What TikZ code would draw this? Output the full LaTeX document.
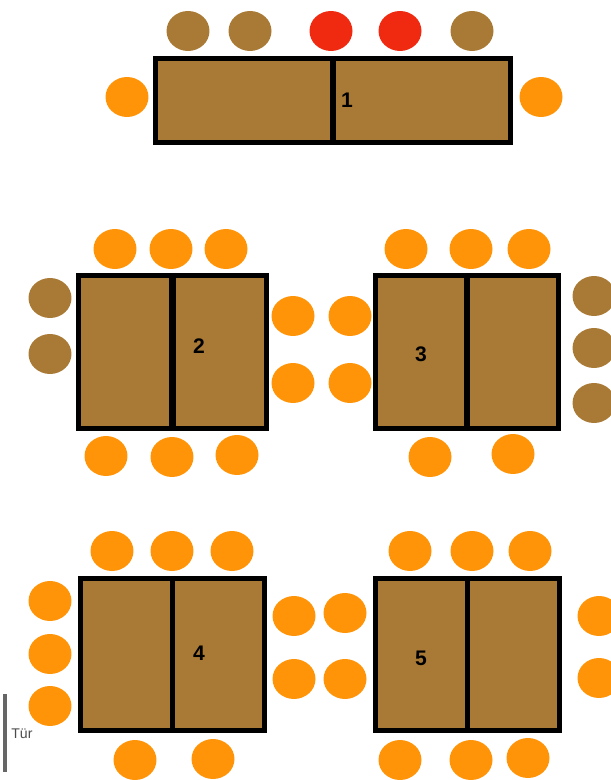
\documentclass[tikz,border=0pt]{standalone}
\usepackage{fontspec}
\setmainfont{Liberation Sans}
\usepackage{tikz}
\usetikzlibrary{shapes.geometric}

\definecolor{tablebrown}{HTML}{A97A35}
\definecolor{seatorange}{HTML}{FF9408}
\definecolor{seatred}{HTML}{F02A10}

\begin{document}
\begin{tikzpicture}[
  x=0.02cm, y=-0.02cm,
  font=\large\bfseries,
  seat/.style={ellipse, inner sep=0pt, minimum width=0.86cm, minimum height=0.8cm},
  free/.style={seat, fill=seatorange},
  taken/.style={seat, fill=tablebrown},
  reserved/.style={seat, fill=seatred},
  tablebox/.style={draw=black, fill=tablebrown, line width=2.9pt, inner sep=0pt},
  divider/.style={draw=black, line width=3.1pt},
]
\useasboundingbox (0,0) rectangle (611,780);
\clip (0,0) rectangle (611,780);

% Tables
\node[tablebox, minimum width=7.1cm, minimum height=1.68cm] (table1) at (333,100.5) {};
\node[tablebox, minimum width=3.76cm, minimum height=3.06cm] (table2) at (172.5,352) {};
\node[tablebox, minimum width=3.66cm, minimum height=3.06cm] (table3) at (467,352) {};
\node[tablebox, minimum width=3.68cm, minimum height=3.04cm] (table4) at (172.5,654.5) {};
\node[tablebox, minimum width=3.68cm, minimum height=3.04cm] (table5) at (467.5,654.5) {};

% Dividers
\draw[divider] (table1.north) -- (table1.south);
\draw[divider, line width=3.8pt] (table2.north) -- (table2.south);
\draw[divider] (table3.north) -- (table3.south);
\draw[divider] (table4.north) -- (table4.south);
\draw[divider] (table5.north) -- (table5.south);

% Table numbers
\node (num1) at (347,100) {1};
\node (num2) at (199,346) {2};
\node (num3) at (421,354) {3};
\node (num4) at (199,653) {4};
\node (num5) at (421,658) {5};

% Seats at table 1
\foreach \x/\y/\kind [count=\i] in {188/31/taken,250/31/taken,331/31/reserved,400/31/reserved,472/31/taken,127/97/free,541/97/free}
  \node[\kind] (a\i) at (\x,\y) {};

% Seats at table 2
\foreach \x/\y/\kind [count=\i] in {115/249/free,171/249/free,226/249/free,50/298/taken,50/354/taken,293/316/free,293/383/free,106/456/free,172/457/free,237/455/free}
  \node[\kind] (b\i) at (\x,\y) {};

% Seats at table 3
\foreach \x/\y/\kind [count=\i] in {406/249/free,471/249/free,529/249/free,350/316/free,350/383/free,594/296/taken,594/348/taken,594/403/taken,430/457/free,513/454/free}
  \node[\kind] (c\i) at (\x,\y) {};

% Seats at table 4
\foreach \x/\y/\kind [count=\i] in {112/551/free,172/551/free,232/551/free,50/601/free,50/654/free,50/706/free,294/616/free,294/679/free,135/760/free,213/759/free}
  \node[\kind] (d\i) at (\x,\y) {};

% Seats at table 5
\foreach \x/\y/\kind [count=\i] in {410/551/free,472/551/free,530/551/free,345/613/free,345/679/free,599/616/free,599/678/free,400/760/free,471/760/free,528/758/free}
  \node[\kind] (e\i) at (\x,\y) {};

% Door
\coordinate (doortop) at (5,694);
\coordinate (doorbottom) at (5,772);
\draw[gray!80!black, line width=2pt] (doortop) -- (doorbottom);
\node[font=\footnotesize, text=black!70, inner sep=0pt, anchor=west] (door) at (11,734) {Tür};
\end{tikzpicture}
\end{document}
